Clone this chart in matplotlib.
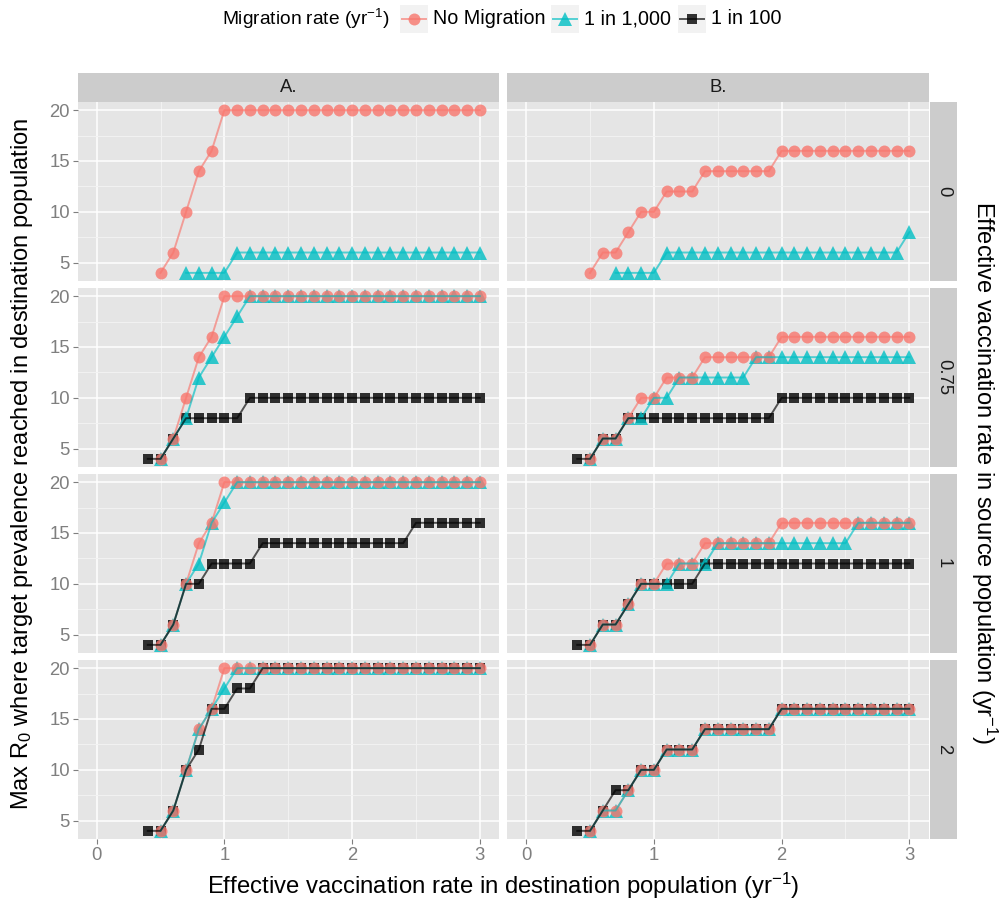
import numpy as np
import matplotlib
matplotlib.use('Agg')
import matplotlib.pyplot as plt
from matplotlib.patches import Rectangle

plt.rcParams['font.family'] = ['Liberation Sans', 'DejaVu Sans']
plt.rcParams['mathtext.fontset'] = 'custom'
plt.rcParams['mathtext.rm'] = 'Liberation Sans'
plt.rcParams['mathtext.it'] = 'Liberation Sans:italic'
plt.rcParams['mathtext.default'] = 'regular'

nan = np.nan

# effective vaccination rate in destination population (x)
vacc_dest = [0.4, 0.5, 0.6, 0.7, 0.8, 0.9, 1.0, 1.1, 1.2, 1.3, 1.4, 1.5, 1.6, 1.7,
             1.8, 1.9, 2.0, 2.1, 2.2, 2.3, 2.4, 2.5, 2.6, 2.7, 2.8, 2.9, 3.0]
source_rates = ['0', '0.75', '1', '2']
scenarios = ['A.', 'B.']
migration = ['No Migration', '1 in 1,000', '1 in 100']

# scenario A
a_none = [nan, 4, 6, 10, 14, 16, 20] + [20] * 20
a0_1000 = [nan, nan, nan, 4, 4, 4, 4] + [6] * 20
a075_1000 = [nan, 4, 6, 8, 12, 14, 16, 18] + [20] * 19
a075_100 = [4, 4, 6, 8, 8, 8, 8, 8] + [10] * 19
a1_1000 = [nan, 4, 6, 10, 12, 16, 18] + [20] * 20
a1_100 = [4, 4, 6, 10, 10, 12, 12, 12, 12] + [14] * 12 + [16] * 6
a2_1000 = [nan, 4, 6, 10, 14, 16, 18] + [20] * 20
a2_100 = [4, 4, 6, 10, 12, 16, 16, 18, 18] + [20] * 18

# scenario B
b_none = [nan, 4, 6, 6, 8, 10, 10, 12, 12, 12] + [14] * 6 + [16] * 11
b0_1000 = [nan, nan, nan, 4, 4, 4, 4] + [6] * 19 + [8]
b075_1000 = [nan, 4, 6, 6, 8, 8, 10, 10] + [12] * 6 + [14] * 13
b075_100 = [4, 4, 6, 6] + [8] * 12 + [10] * 11
b1_1000 = [nan, 4, 6, 6, 8, 10, 10, 10] + [12] * 3 + [14] * 11 + [16] * 5
b1_100 = [4, 4, 6, 6, 8] + [10] * 5 + [12] * 17
b2_1000 = [nan, 4, 6, 6, 8, 10, 10, 12, 12, 12] + [14] * 6 + [16] * 11
b2_100 = [4, 4, 6, 8, 8, 10, 10, 12, 12, 12] + [14] * 6 + [16] * 11

table = {
    ('A.', '0'): [a_none, a0_1000, None],
    ('A.', '0.75'): [a_none, a075_1000, a075_100],
    ('A.', '1'): [a_none, a1_1000, a1_100],
    ('A.', '2'): [a_none, a2_1000, a2_100],
    ('B.', '0'): [b_none, b0_1000, None],
    ('B.', '0.75'): [b_none, b075_1000, b075_100],
    ('B.', '1'): [b_none, b1_1000, b1_100],
    ('B.', '2'): [b_none, b2_1000, b2_100],
}

colors = ['#F8766D', '#00BFC4', '#000000']
markers = ['o', '^', 's']
msizes = [8.6, 10.0, 7.0]
grey50 = '#7F7F7F'

W, H = 1001, 906
fig = plt.figure(figsize=(W / 100, H / 100), dpi=100)


def px_axes(x, y, w, h):
    return fig.add_axes([x / W, 1 - (y + h) / H, w / W, h / H])


col_left = [77.5, 507]
col_w = 421.5
row_top = [102, 288, 474, 660]
row_h = 179

for ci, sc in enumerate(scenarios):
    for ri, sr in enumerate(source_rates):
        ax = px_axes(col_left[ci], row_top[ri], col_w, row_h)
        ax.set_facecolor('#E5E5E5')
        for s in ax.spines.values():
            s.set_visible(False)
        ax.set_xlim(-0.15, 3.15)
        ax.set_ylim(3.2, 20.8)
        ax.set_xticks([0, 1, 2, 3])
        ax.set_xticks([0.5, 1.5, 2.5], minor=True)
        ax.set_yticks([5, 10, 15, 20])
        ax.set_yticks([7.5, 12.5, 17.5], minor=True)
        ax.grid(which='major', color='white', linewidth=1.1)
        ax.grid(which='minor', color='#F2F2F2', linewidth=0.7)
        ax.set_axisbelow(True)
        ax.tick_params(which='minor', length=0)
        ax.tick_params(which='major', length=3.5, width=0.8, color=grey50,
                       labelcolor=grey50, labelsize=13.3, pad=2)
        if ci > 0:
            ax.tick_params(axis='y', left=False, labelleft=False)
        if ri < 3:
            ax.tick_params(axis='x', bottom=False, labelbottom=False)

        series = table[(sc, sr)]
        # points: black first, pink on top
        for k in [2, 1, 0]:
            if series[k] is None:
                continue
            ax.plot(vacc_dest, series[k], linestyle='none', marker=markers[k],
                    markersize=msizes[k], color=colors[k], alpha=0.8,
                    markeredgewidth=0, zorder=2 + 0.1 * (2 - k))
        # lines over the points
        for k in [0, 1, 2]:
            if series[k] is None:
                continue
            ax.plot(vacc_dest, series[k], color=colors[k], linewidth=1.4,
                    alpha=0.65, zorder=3 + 0.1 * k)

        if ri == 0:
            sax = px_axes(col_left[ci], 73, col_w, 29)
            sax.set_facecolor('#CCCCCC')
            sax.set_xticks([])
            sax.set_yticks([])
            for s in sax.spines.values():
                s.set_visible(False)
            sax.text(0.5, 0.5, sc, ha='center', va='center', fontsize=13.3,
                     color='#1A1A1A', transform=sax.transAxes)
        if ci == 1:
            rax = px_axes(930, row_top[ri], 27, row_h)
            rax.set_facecolor('#CCCCCC')
            rax.set_xticks([])
            rax.set_yticks([])
            for s in rax.spines.values():
                s.set_visible(False)
            rax.text(0.5, 0.5, sr, ha='center', va='center', rotation=-90,
                     fontsize=13.3, color='#1A1A1A', transform=rax.transAxes)

# axis titles
fig.text(503 / W, 1 - 886 / H,
         'Effective vaccination rate in destination population (yr$^{-1}$)',
         ha='center', va='center', fontsize=17.2)
fig.text(22 / W, 1 - 464 / H,
         'Max R$_0$ where target prevalence reached in destination population',
         ha='center', va='center', rotation=90, fontsize=17)
fig.text(984 / W, 1 - 472 / H,
         'Effective vaccination rate in source population (yr$^{-1}$)',
         ha='center', va='center', rotation=-90, fontsize=17)

# legend on top
lax = fig.add_axes([0, 1 - 40 / H, 1, 40 / H])
lax.set_xlim(0, W)
lax.set_ylim(40, 0)
lax.axis('off')
lax.text(222, 19, 'Migration rate (yr$^{-1}$)', ha='left', va='center',
         fontsize=13.8)
key_x = [400, 551, 678]
for k, name in enumerate(migration):
    x0 = key_x[k]
    lax.add_patch(Rectangle((x0, 5), 28, 28, color='#F2F2F2', lw=0))
    lax.plot([x0 + 2, x0 + 26], [19, 19], color=colors[k], linewidth=1.4,
             alpha=0.65)
    lax.plot([x0 + 14], [19], marker=markers[k], markersize=msizes[k],
             color=colors[k], alpha=0.8, markeredgewidth=0, linestyle='none')
    lax.text(x0 + 33, 19, name, ha='left', va='center', fontsize=14.2)

fig.savefig('out.png', dpi=100)
